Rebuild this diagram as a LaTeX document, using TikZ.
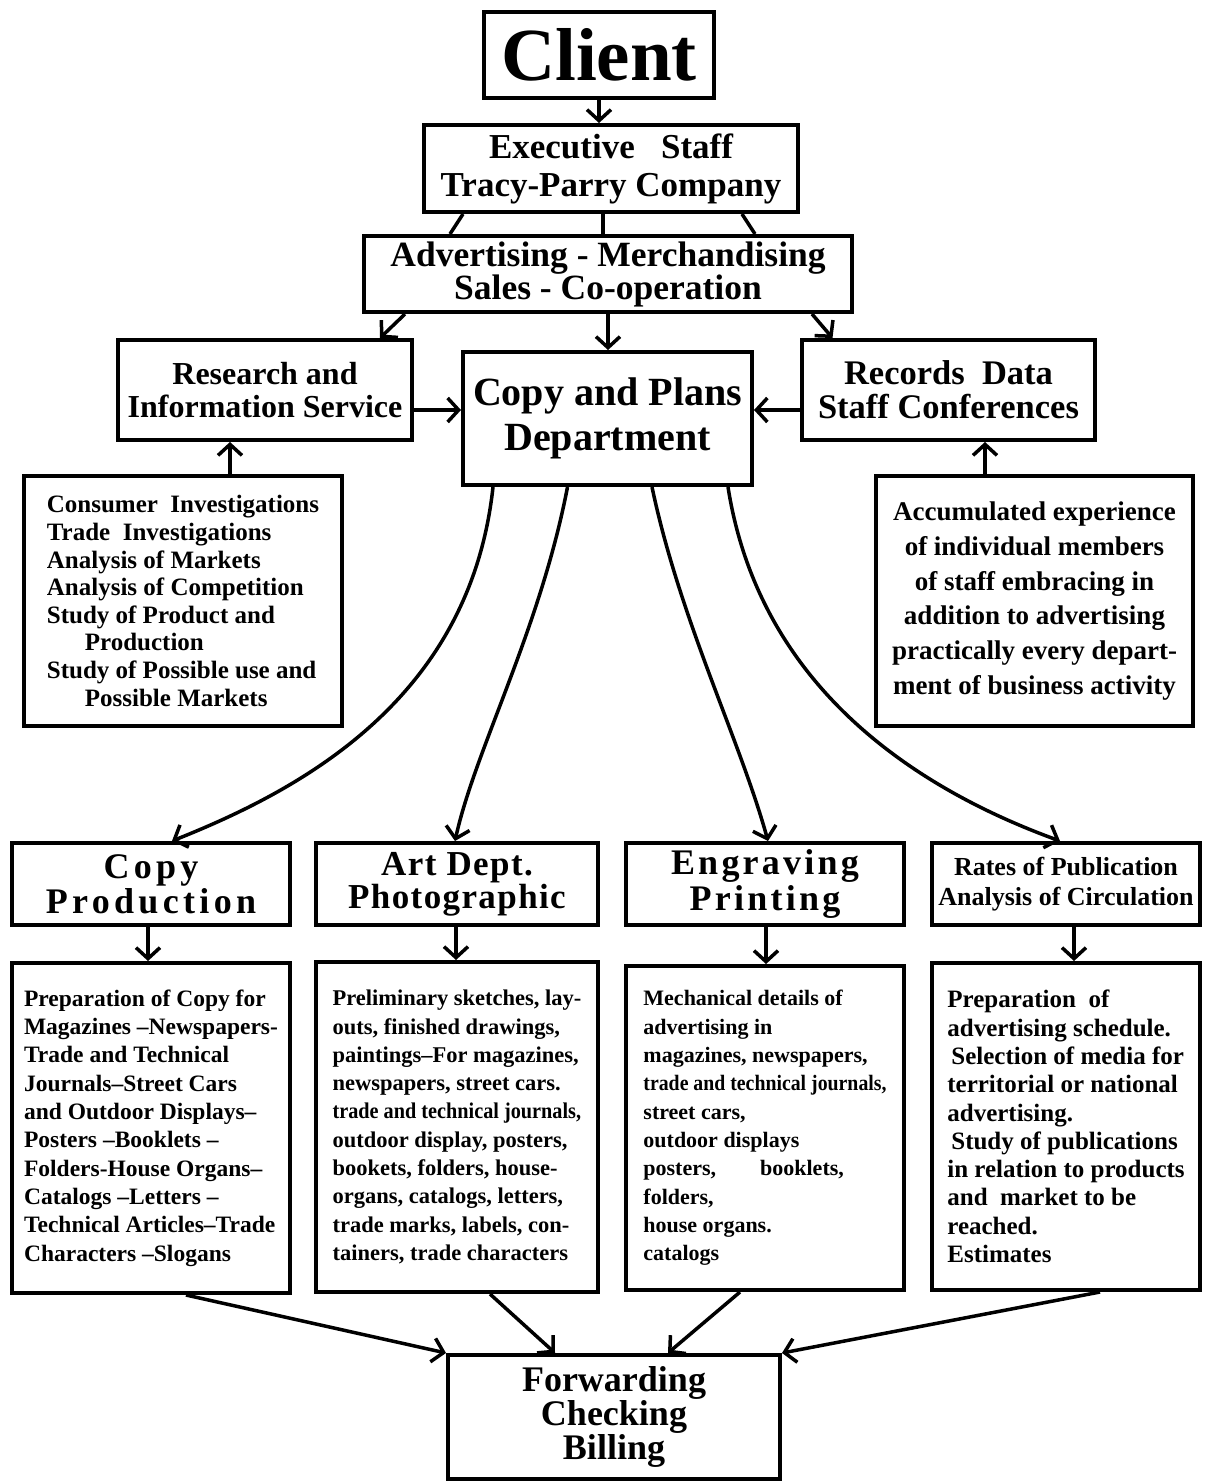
\documentclass[tikz,border=0pt]{standalone}
\usepackage{fontspec}
\setmainfont{Liberation Serif}
\usetikzlibrary{arrows.meta}
\newcommand{\fsz}[2]{\fontsize{#1}{#2}\selectfont\bfseries\lineskiplimit=-100pt\relax}
\newcommand{\lsp}[1]{\addfontfeature{LetterSpace=#1}}
\newcommand{\cond}[2]{\scalebox{#1}[1]{#2}}
\begin{document}
\begin{tikzpicture}[x=1pt,y=-1pt,
  box/.style={draw, line width=4pt, inner sep=0pt, align=center},
  ln/.style={line width=3.5pt},
  arr/.style={line width=3.5pt, -{Straight Barb[length=11pt,width=24pt,line width=3.5pt]}}]
\useasboundingbox[fill=white] (0,0) rectangle (1209,1481);

% top chain
\node[box, minimum width=230pt, minimum height=86pt, font=\fsz{75}{80}] (client) at (599,55) {Client};
\node[box, minimum width=374pt, minimum height=87pt, font=\fsz{35}{38}] (exec) at (611,168.5)
  {Executive\ \ \ Staff\\Tracy-Parry Company};
\node[box, minimum width=488pt, minimum height=76pt, font=\fsz{35.5}{33}] (adv) at (608,274)
  {Advertising\ - Merchandising\\Sales - Co-operation};

% middle row
\node[box, minimum width=294pt, minimum height=100pt, font=\fsz{32}{33}] (research) at (265,390)
  {Research and\\Information Service};
\node[box, minimum width=289pt, minimum height=133pt, font=\fsz{40}{45}] (copyplans) at (607.5,418.5)
  {Copy and Plans\\Department};
\node[box, minimum width=293pt, minimum height=100pt, font=\fsz{34.5}{34}] (records) at (948.5,390)
  {Records\ \ Data\\Staff Conferences};

% side boxes
\node[box, minimum width=318pt, minimum height=250pt, align=left, font=\fsz{25}{27.6}] (consumer) at (183,601)
  {Consumer\ \ Investigations\\
   Trade\ \ Investigations\\
   Analysis of Markets\\
   Analysis of Competition\\
   Study of Product and\\
   \hspace*{38pt}Production\\
   Study of Possible use and\\
   \hspace*{38pt}Possible Markets};
\node[box, minimum width=317pt, minimum height=250pt, font=\fsz{27}{34.7}] (accum) at (1034.5,601)
  {Accumulated experience\\
   of individual members\\
   of staff embracing in\\
   addition to advertising\\
   practically every depart-\\
   ment of business activity};

% department headers
\node[box, minimum width=278pt, minimum height=82pt, font=\fsz{36}{35}\lsp{12}] (copyprod) at (151,884) {Copy\\Production};
\node[box, minimum width=282pt, minimum height=82pt, font=\fsz{35}{33}\lsp{4}] (art) at (457,884) {Art Dept.\\Photographic};
\node[box, minimum width=278pt, minimum height=82pt, font=\fsz{36}{36}\lsp{9}] (eng) at (765,884) {Engraving\\Printing};
\node[box, minimum width=268pt, minimum height=82pt, font=\fsz{26}{30}] (rates) at (1066,884) {Rates of Publication\\Analysis of Circulation};

% department bodies
\node[box, minimum width=278pt, minimum height=330pt, align=left, font=\fsz{23.5}{28.3}] (copybody) at (151,1128)
  {Preparation of Copy for\\
   Magazines –Newspapers-\\
   Trade and Technical\\
   Journals–Street Cars\\
   and Outdoor Displays–\\
   Posters –Booklets –\\
   Folders-House Organs–\\
   Catalogs –Letters –\\
   Technical Articles–Trade\\
   Characters –Slogans};
\node[box, minimum width=282pt, minimum height=330pt, align=left, font=\fsz{22.5}{28.3}] (artbody) at (457,1127)
  {Preliminary sketches, lay-\\
   outs, finished drawings,\\
   paintings–For magazines,\\
   newspapers, street cars.\\
   \cond{0.9}{trade and technical journals,}\\
   outdoor display, posters,\\
   bookets, folders, house-\\
   organs, catalogs, letters,\\
   trade marks, labels, con-\\
   tainers, trade characters};
\node[box, minimum width=278pt, minimum height=324pt, align=left, font=\fsz{22}{28.3}] (engbody) at (765,1128)
  {Mechanical details of\\
   advertising in\\
   magazines, newspapers,\\
   \cond{0.9}{trade and technical journals,}\\
   street cars,\\
   outdoor displays\\
   posters,\qquad booklets,\\
   folders,\\
   house organs.\\
   catalogs};
\node[box, minimum width=268pt, minimum height=327pt, align=left, font=\fsz{25}{28.3}] (ratesbody) at (1066,1126.5)
  {Preparation\ \ of\\
   advertising schedule.\\
   \hspace*{4pt}Selection of media for\\
   territorial or national\\
   advertising.\\
   \hspace*{4pt}Study of publications\\
   in relation to products\\
   and\ \ market to be\\
   reached.\\
   Estimates};

% bottom
\node[box, minimum width=332pt, minimum height=124pt, font=\fsz{36}{34}] (fwd) at (614,1417)
  {Forwarding\\Checking\\Billing};

% connectors: top chain
\draw[arr] (client.south) -- (client.south |- exec.north);
\draw[ln] ([xshift=-148pt]exec.south) -- ([xshift=-158pt]adv.north);
\draw[ln] ([xshift=-8pt]exec.south) -- ([xshift=-5pt]adv.north);
\draw[ln] ([xshift=131pt]exec.south) -- ([xshift=147pt]adv.north);
\draw[arr] ([xshift=-203pt]adv.south) -- ([xshift=115pt]research.north);
\draw[arr] (adv.south) -- (adv.south |- copyplans.north);
\draw[arr] ([xshift=204pt]adv.south) -- ([xshift=-116pt]records.north);

% into copy and plans
\draw[arr] ([yshift=-20pt]research.east) -- ([yshift=-20pt]research.east -| copyplans.west);
\draw[arr] ([yshift=-20pt]records.west) -- ([yshift=-20pt]records.west -| copyplans.east);
\draw[arr] ([xshift=47pt]consumer.north) -- ([xshift=47pt]consumer.north |- research.south);
\draw[arr] ([xshift=-49.5pt]accum.north) -- ([xshift=-49.5pt]accum.north |- records.south);

% fan out
\draw[arr] ([xshift=-114.5pt]copyplans.south) .. controls (470,700) and (300,790) .. ([xshift=21pt]copyprod.north);
\draw[arr] ([xshift=-40pt]copyplans.south) .. controls (540,630) and (475,750) .. ([xshift=-2pt]art.north);
\draw[arr] ([xshift=44.5pt]copyplans.south) .. controls (680,620) and (740,740) .. ([xshift=3pt]eng.north);
\draw[arr] ([xshift=120.5pt]copyplans.south) .. controls (760,690) and (920,790) .. ([xshift=-6pt]rates.north);

% headers to bodies
\draw[arr] ([xshift=-3pt]copyprod.south) -- ([xshift=-3pt]copyprod.south |- copybody.north);
\draw[arr] ([xshift=-1pt]art.south) -- ([xshift=-1pt]art.south |- artbody.north);
\draw[arr] ([xshift=1pt]eng.south) -- ([xshift=1pt]eng.south |- engbody.north);
\draw[arr] ([xshift=8pt]rates.south) -- ([xshift=8pt]rates.south |- ratesbody.north);

% into forwarding
\draw[arr] ([xshift=35pt]copybody.south) -- (fwd.north west);
\draw[arr] ([xshift=33pt]artbody.south) -- ([xshift=-59pt]fwd.north);
\draw[arr] ([xshift=-25pt]engbody.south) -- ([xshift=54pt]fwd.north);
\draw[arr] ([xshift=34pt]ratesbody.south) -- (fwd.north east);
\end{tikzpicture}
\end{document}
